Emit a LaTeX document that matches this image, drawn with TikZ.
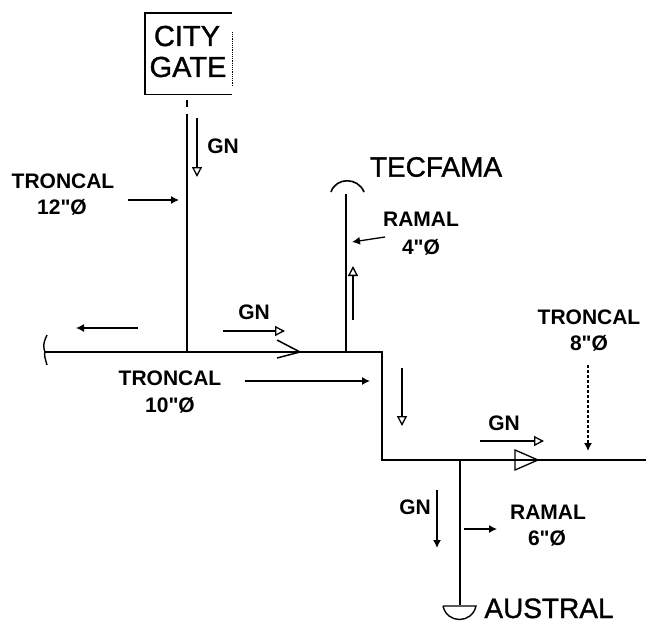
\documentclass[tikz,border=0pt]{standalone}
\usepackage{fontspec}
\setmainfont{Liberation Sans}[Ligatures=TeXOff]
\newfontfamily\semifont{Liberation Sans}[Ligatures=TeXOff,FakeBold=1.2]
\usetikzlibrary{arrows.meta}
\tikzset{
  pipe/.style={draw=black,line width=1.4pt},
  lbl/.style={inner sep=0pt,font=\fontsize{21}{21}\selectfont\bfseries,align=center},
  lblbig/.style={inner sep=0pt,font=\fontsize{28}{28}\selectfont\semifont},
  lblgate/.style={inner sep=0pt,font=\fontsize{29}{29}\selectfont\semifont},
  solidarr/.style={draw=black,line width=1.3pt,-{Latex[length=8pt,width=8pt]}},
  openarr/.style={draw=black,line width=1.3pt,-{Triangle[open,length=10pt,width=10pt,line width=1.3pt]}}
}
\begin{document}
\begin{tikzpicture}[x=1pt,y=-1pt]
\useasboundingbox (0,0) rectangle (646,624);
% city gate box
\node[draw=none,minimum width=87pt,minimum height=81pt,inner sep=0pt] (gate) at (188.5,53.5) {};
\draw[line width=1.4pt] (gate.north east) -- (gate.north west) -- (gate.south west) -- (gate.south east);
\draw[line width=1.2pt,densely dotted] ([yshift=-19pt]gate.north east) -- ([yshift=9pt]gate.south east);
\node[lblgate] (city) at (187,36) {CITY};
\node[lblgate] (gatet) at (188,67) {GATE};
% pipe junctions
\coordinate (a0) at (187,100);
\coordinate (a1) at (187,107);
\coordinate (a2) at (187,114);
\coordinate (j1) at (187,352);
\coordinate (w) at (45,352);
\coordinate (j2) at (346,352);
\coordinate (c1) at (382,352);
\coordinate (c2) at (382,460);
\coordinate (j3) at (460,460);
\coordinate (e) at (646,460);
\coordinate (aus) at (460,605);
\coordinate (tec) at (346,194);
\draw[pipe] (a0) -- (a1);
\draw[pipe] (a2) -- (j1);
\draw[pipe] (w) -- (c1) -- (c2) -- (e);
\draw[pipe] (j2) -- (tec);
\draw[pipe] (j3) -- (aus);
% ends
\draw[line width=1.4pt] (47,335) .. controls (42,345) and (44,349) .. (w) .. controls (44,355) and (45,358) .. (47,365);
\draw[line width=1.6pt] (331,192) .. controls (336,177) and (358,177) .. (364,192);
\draw[line width=1.4pt] (443,606) -- (476,606) .. controls (472,624) and (447,624) .. (443,606);
% fittings
\coordinate (chev) at (300,352);
\draw[line width=1.5pt] (277,340) -- (chev) -- (277,358);
\draw[line width=1.3pt,fill=white] (515,450) -- (538,460) -- (515,470) -- cycle;
\draw[pipe] (515,460) -- (538,460);
% labels
\node[lbl] (gn1) at (223,146) {GN};
\node[lbl] (t12) at (63,181) {TRONCAL};
\node[lbl] (d12) at (62,207) {12"Ø};
\node[lblbig] (tf) at (436,167) {TECFAMA};
\node[lbl] (r4) at (421,219) {RAMAL};
\node[lbl] (d4) at (421,247) {4"Ø};
\node[lbl] (gn2) at (254,312) {GN};
\node[lbl] (t10) at (170,378) {TRONCAL};
\node[lbl] (d10) at (170,405) {10"Ø};
\node[lbl] (t8) at (589,317) {TRONCAL};
\node[lbl] (d8) at (589,343) {8"Ø};
\node[lbl] (gn3) at (504,423) {GN};
\node[lbl] (gn4) at (415,507) {GN};
\node[lbl] (r6) at (548,512) {RAMAL};
\node[lbl] (d6) at (547,538) {6"Ø};
\node[lblbig,anchor=base] (au) at (549,618) {AUSTRAL};
% flow and label arrows
\coordinate (f1a) at (197,118); \coordinate (f1b) at (197,177);
\draw[openarr] (f1a) -- (f1b);
\coordinate (l12a) at (128,200); \coordinate (l12b) at (179,200);
\draw[solidarr] (l12a) -- (l12b);
\coordinate (l4a) at (385,237); \coordinate (l4b) at (352,242);
\draw[solidarr] (l4a) -- (l4b);
\coordinate (f4a) at (353,320); \coordinate (f4b) at (353,266);
\draw[openarr] (f4a) -- (f4b);
\coordinate (f5a) at (138,328); \coordinate (f5b) at (76,328);
\draw[solidarr] (f5a) -- (f5b);
\coordinate (f6a) at (223,331); \coordinate (f6b) at (285,331);
\draw[openarr] (f6a) -- (f6b);
\coordinate (l10a) at (245,381); \coordinate (l10b) at (370,381);
\draw[solidarr] (l10a) -- (l10b);
\coordinate (f7a) at (402,368); \coordinate (f7b) at (402,426);
\draw[openarr] (f7a) -- (f7b);
\coordinate (l8a) at (588,365); \coordinate (l8b) at (588,451);
\draw[draw=black,line width=1.3pt,densely dashed] (l8a) -- (588,441);
\draw[solidarr] (588,441) -- (l8b);
\coordinate (f8a) at (480,441); \coordinate (f8b) at (544,441);
\draw[openarr] (f8a) -- (f8b);
\coordinate (f9a) at (437,490); \coordinate (f9b) at (437,548);
\draw[solidarr] (f9a) -- (f9b);
\coordinate (l6a) at (464,529); \coordinate (l6b) at (497,529);
\draw[solidarr] (l6a) -- (l6b);
\end{tikzpicture}
\end{document}
